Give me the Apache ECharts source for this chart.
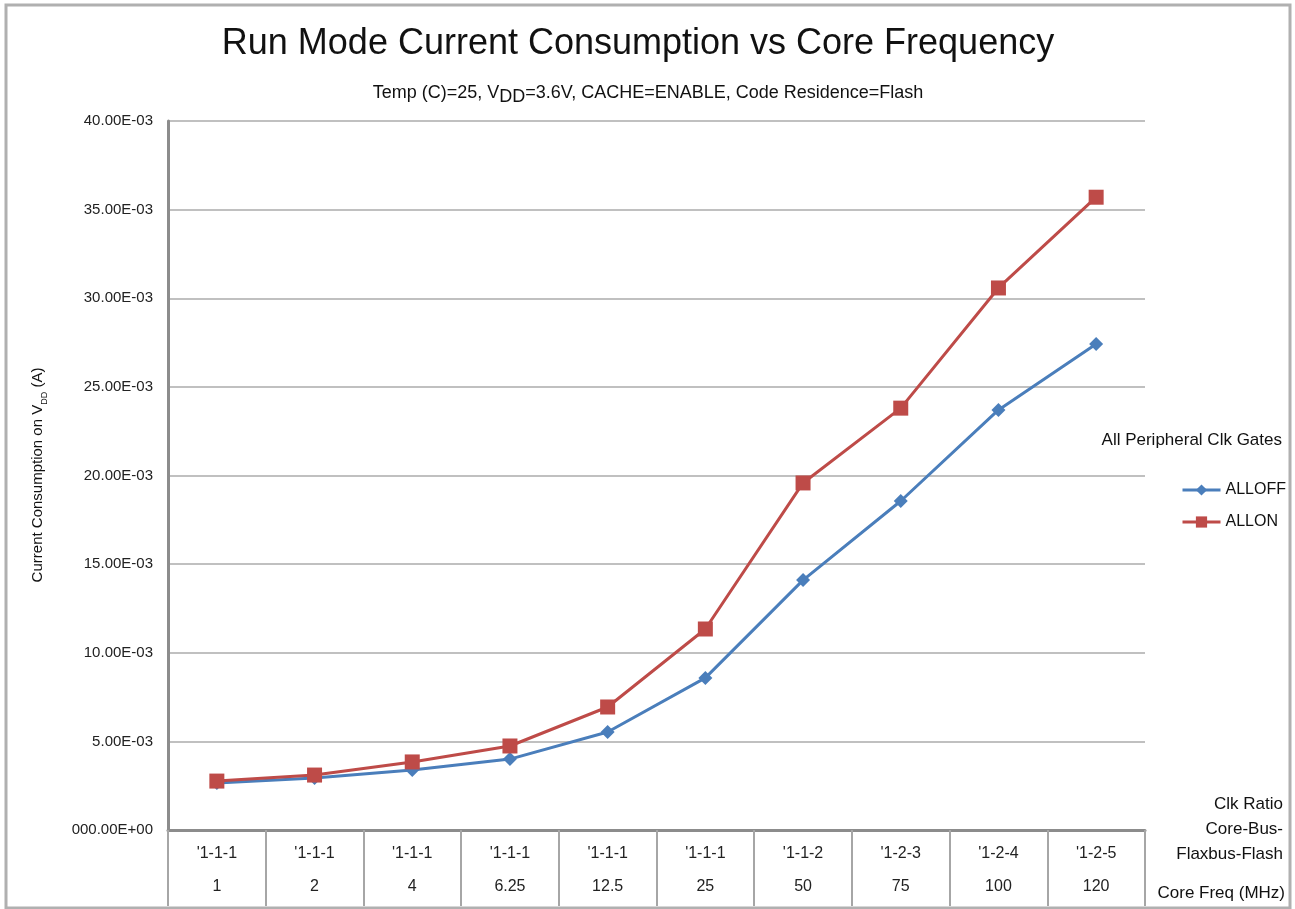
<!DOCTYPE html>
<html>
<head>
<meta charset="utf-8">
<script src="https://cdn.jsdelivr.net/npm/echarts@6/dist/echarts.min.js"></script>
<style>
html,body{margin:0;padding:0;background:#fff;}
#chart{width:1295px;height:909px;}
</style>
</head>
<body>
<div id="chart"></div>
<script>
// ---- data ----
const clkRatios = ["'1-1-1", "'1-1-1", "'1-1-1", "'1-1-1", "'1-1-1", "'1-1-1", "'1-1-2", "'1-2-3", "'1-2-4", "'1-2-5"];
const coreFreqs = ["1", "2", "4", "6.25", "12.5", "25", "50", "75", "100", "120"];
const allOff = [0.00265, 0.00293, 0.00339, 0.00400, 0.00553, 0.00858, 0.01410, 0.01856, 0.02370, 0.02742];
const allOn  = [0.00276, 0.00310, 0.00384, 0.00474, 0.00694, 0.01134, 0.01958, 0.02380, 0.03058, 0.03570];
const seriesNames = ["ALLOFF", "ALLON"];
const yTickLabels = { min: 0, max: 0.04, interval: 0.005 };

const FONT = "'Liberation Sans', Arial, Helvetica, sans-serif";
const categories = clkRatios.map((r, i) => r + '|' + coreFreqs[i]);

const chart = echarts.init(document.getElementById('chart'), null, {renderer: 'canvas'});
const option = {
  backgroundColor: '#fff',
  animation: false,
  textStyle: { fontFamily: FONT },
  grid: { left: 168, right: 150, top: 121, bottom: 79, containLabel: false },
  xAxis: {
    type: 'category',
    data: categories,
    boundaryGap: true,
    axisLine: { show: true, lineStyle: { color: '#8c8c8c', width: 3 } },
    axisTick: { show: true, length: 76, lineStyle: { color: '#a6a6a6', width: 2 } },
    axisLabel: {
      margin: 7,
      interval: 0,
      formatter: function (v) {
        const p = v.split('|');
        return '{a|' + p[0] + '}\n{b|' + p[1] + '}';
      },
      rich: {
        a: { fontSize: 16, color: '#222', lineHeight: 33, fontFamily: FONT },
        b: { fontSize: 16, color: '#222', lineHeight: 33, fontFamily: FONT }
      }
    },
    splitLine: { show: false }
  },
  yAxis: {
    type: 'value',
    min: yTickLabels.min, max: yTickLabels.max, interval: yTickLabels.interval,
    axisLine: { show: true, lineStyle: { color: '#8c8c8c', width: 3 } },
    axisTick: { show: false },
    axisLabel: {
      margin: 15, fontSize: 15, color: '#222', fontFamily: FONT,
      formatter: function (v) {
        if (v === 0) return '000.00E+00';
        return (v * 1000).toFixed(2) + 'E-03';
      }
    },
    splitLine: { show: true, lineStyle: { color: '#c0c0c0', width: 2 } }
  },
  legend: {
    orient: 'vertical',
    left: 1176, top: 477,
    itemWidth: 38, itemHeight: 14, itemGap: 16,
    lineStyle: { width: 3 },
    textStyle: { fontSize: 16, color: '#111', fontFamily: FONT },
    data: seriesNames
  },
  series: [
    {
      name: seriesNames[0], type: 'line', data: allOff,
      symbol: 'diamond', symbolSize: 14,
      itemStyle: { color: '#4A7EBB' },
      lineStyle: { color: '#4A7EBB', width: 3 }
    },
    {
      name: seriesNames[1], type: 'line', data: allOn,
      symbol: 'rect', symbolSize: 15,
      itemStyle: { color: '#BE4B48' },
      lineStyle: { color: '#BE4B48', width: 3 }
    }
  ],
  graphic: [
    { type: 'rect', shape: { x: 6, y: 5, width: 1284, height: 903 }, style: { fill: null, stroke: '#b0b0b0', lineWidth: 3 }, silent: true, z: -1 },
    { type: 'text', x: 638, y: 44, style: { text: 'Run Mode Current Consumption vs Core Frequency', font: '36px ' + FONT, fill: '#111', align: 'center', verticalAlign: 'middle' } },
    { type: 'text', x: 648, y: 95, style: {
        text: '{n|Temp (C)=25, V}{s|DD}{n|=3.6V, CACHE=ENABLE, Code Residence=Flash}',
        align: 'center', verticalAlign: 'middle',
        rich: {
          n: { fontSize: 18, fontFamily: FONT, fill: '#111', lineHeight: 22, verticalAlign: 'top', padding: [0,0,5,0] },
          s: { fontSize: 18, fontFamily: FONT, fill: '#111', lineHeight: 22, verticalAlign: 'bottom', padding: [6,0,0,0] }
        }
    } },
    { type: 'text', x: 40, y: 475, rotation: Math.PI / 2, style: {
        text: '{n|Current Consumption on V}{s|DD}{n| (A)}',
        align: 'center', verticalAlign: 'middle',
        rich: {
          n: { fontSize: 15, fontFamily: FONT, fill: '#111', lineHeight: 19, verticalAlign: 'top' },
          s: { fontSize: 9, fontFamily: FONT, fill: '#111', lineHeight: 19, verticalAlign: 'bottom', padding: [7,0,0,0] }
        }
    } },
    { type: 'text', x: 1282, y: 440, style: { text: 'All Peripheral Clk Gates', font: '17px ' + FONT, fill: '#111', align: 'right', verticalAlign: 'middle' } },
    { type: 'text', x: 1283, y: 804, style: { text: 'Clk Ratio', font: '17px ' + FONT, fill: '#111', align: 'right', verticalAlign: 'middle' } },
    { type: 'text', x: 1283, y: 829, style: { text: 'Core-Bus-', font: '17px ' + FONT, fill: '#111', align: 'right', verticalAlign: 'middle' } },
    { type: 'text', x: 1283, y: 854, style: { text: 'Flaxbus-Flash', font: '17px ' + FONT, fill: '#111', align: 'right', verticalAlign: 'middle' } },
    { type: 'text', x: 1285, y: 893, style: { text: 'Core Freq (MHz)', font: '17px ' + FONT, fill: '#111', align: 'right', verticalAlign: 'middle' } }
  ]
};
chart.setOption(option);
</script>
</body>
</html>
